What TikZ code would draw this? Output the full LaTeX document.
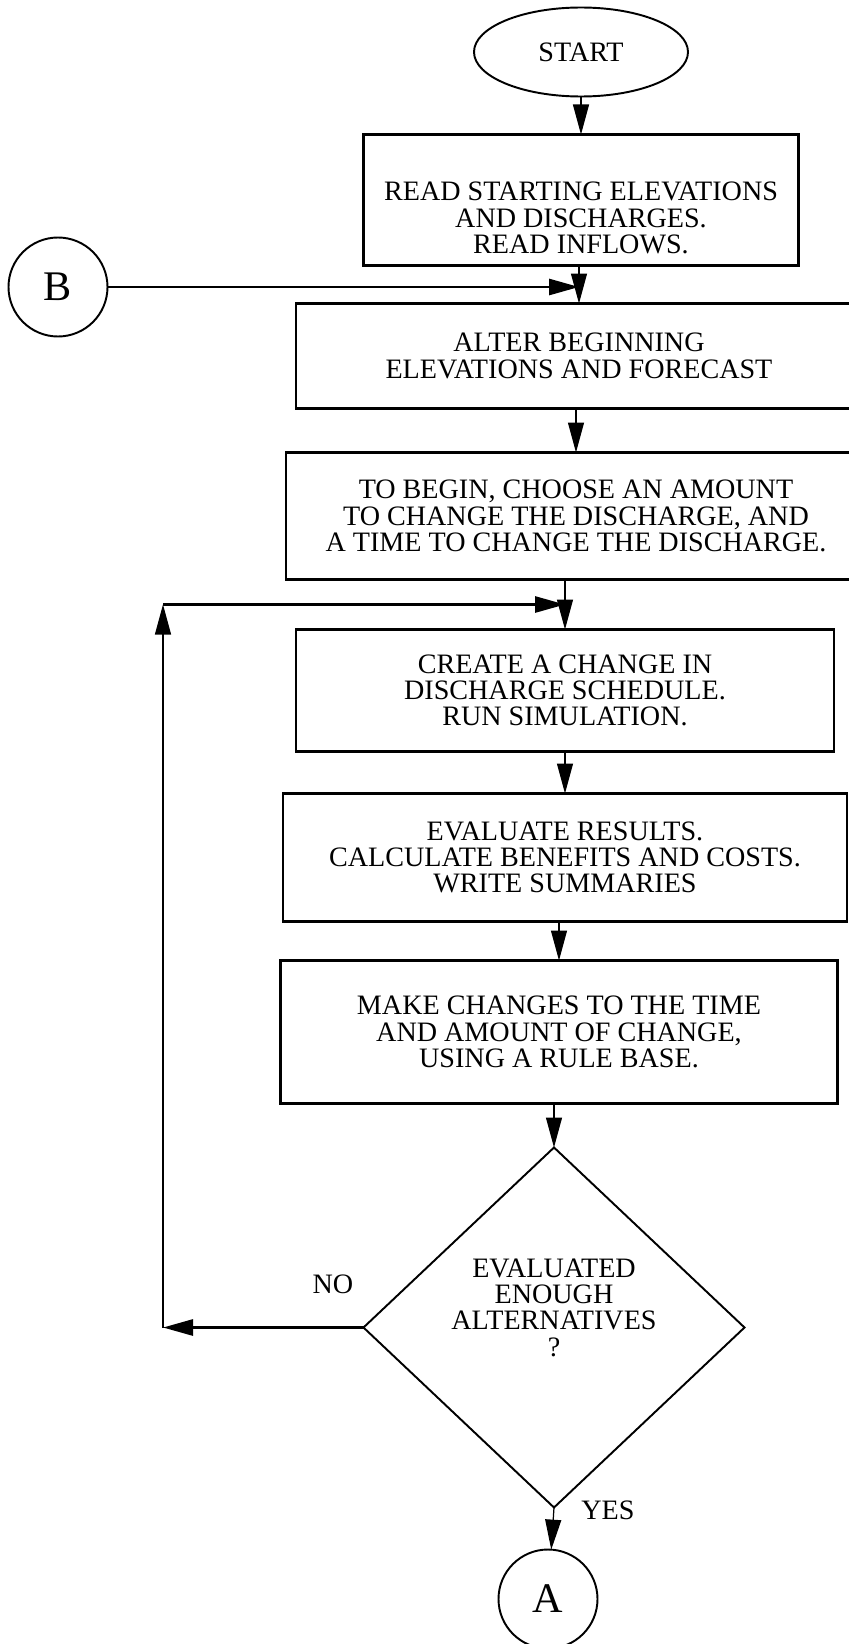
\documentclass[tikz,border=0pt]{standalone}
\usepackage{fontspec}
\setmainfont{Liberation Serif}
\usepackage{tikz}
\usetikzlibrary{shapes.geometric,arrows.meta,positioning,calc}
\tikzset{
    flowbox/.style={
        rectangle,
        draw=black,
        line width=1.3pt,
        align=center,
        inner sep=0pt,
        outer sep=0pt
    },
    terminal/.style={
        ellipse,
        draw=black,
        line width=1.1pt,
        minimum width=4.28cm,
        minimum height=1.78cm,
        inner sep=0pt,
        outer sep=0pt
    },
    connector/.style={
        circle,
        draw=black,
        line width=1.1pt,
        minimum size=1.98cm,
        inner sep=0pt,
        outer sep=0pt,
        font=\fontsize{24}{24}\selectfont
    },
    decision/.style={
        diamond,
        draw=black,
        line width=1.1pt,
        minimum width=7.62cm,
        minimum height=7.2cm,
        inner sep=0pt,
        outer sep=0pt,
        align=center
    },
    flowarrow/.style={
        -{Triangle[length=0.6cm,width=0.32cm]},
        line width=0.7pt
    },
    heavyarrow/.style={
        flowarrow,
        line width=1.6pt
    }
}

\begin{document}
\begin{tikzpicture}[node distance=0.76cm, font=\fontsize{16}{15}\selectfont]
\useasboundingbox (0,0) rectangle (16.98,-32.88);

% Start
\node[terminal] (start) at (11.62,-1.04) {START};

% Read
\node[flowbox, minimum width=8.7cm, minimum height=2.62cm, below=0.76cm of start] (read) {\rule{0pt}{1.1cm}READ STARTING ELEVATIONS\\AND DISCHARGES.\\READ INFLOWS.};

% Alter
\node[flowbox, minimum width=11.32cm, minimum height=2.1cm, below=0.76cm of read, xshift=-0.04cm] (alter) {ALTER BEGINNING\\ELEVATIONS AND FORECAST};

% Choose
\node[flowbox, minimum width=11.6cm, minimum height=2.54cm, below=0.88cm of alter, xshift=-0.06cm] (choose) {TO BEGIN, CHOOSE AN AMOUNT\\TO CHANGE THE DISCHARGE, AND\\A TIME TO CHANGE THE DISCHARGE.};

% Create
\node[flowbox, minimum width=10.76cm, minimum height=2.44cm, below=1.0cm of choose, xshift=-0.22cm] (create) {CREATE A CHANGE IN\\DISCHARGE SCHEDULE.\\RUN SIMULATION.};

% Evaluate
\node[flowbox, minimum width=11.28cm, minimum height=2.56cm, below=0.84cm of create] (evaluate) {EVALUATE RESULTS.\\CALCULATE BENEFITS AND COSTS.\\WRITE SUMMARIES};

% Make
\node[flowbox, minimum width=11.14cm, minimum height=2.86cm, below=0.78cm of evaluate, xshift=-0.12cm] (make) {MAKE CHANGES TO THE TIME\\AND AMOUNT OF CHANGE,\\USING A RULE BASE.};

% Decision
\node[decision, below=0.88cm of make, xshift=-0.1cm] (enough) {EVALUATED\\ENOUGH\\ALTERNATIVES\\?\rule[-0.8cm]{0pt}{0pt}};

% Connectors A and B
\node[connector, below=0.84cm of enough, xshift=-0.12cm] (conA) {A};
\node[connector] (conB) at (1.16,-5.74) {B};

% Labels
\node (no) at (6.66,-25.68) {NO};
\node (yes) at (12.16,-30.2) {YES};

% Main flow
\draw[flowarrow] (start.south -| read.north) -- (read.north);
\draw[flowarrow] (read.south -| alter.north) -- (alter.north);
\draw[flowarrow] (alter.south -| choose.north) -- (choose.north);
\draw[flowarrow] (choose.south -| create.north) -- (create.north);
\draw[flowarrow] (create.south -| evaluate.north) -- (evaluate.north);
\draw[flowarrow] (evaluate.south -| make.north) -- (make.north);
\draw[flowarrow] (make.south -| enough.north) -- (enough.north);
\draw[flowarrow] (enough.south) -- (conA);

% Entry from B
\coordinate (jB) at (alter.north |- conB.east);
\draw[heavyarrow] (conB) -- (jB);

% Loop back (NO)
\coordinate (loopmid) at ($(choose.south -| create.north)!0.5!(create.north)$);
\coordinate (loopbot) at (3.26,0 |- enough.west);
\coordinate (looptop) at (loopbot |- loopmid);
\draw[heavyarrow] (enough.west) -- (loopbot);
\draw[flowarrow] (loopbot) -- (looptop);
\draw[heavyarrow] (looptop) -- (loopmid);
\end{tikzpicture}
\end{document}
